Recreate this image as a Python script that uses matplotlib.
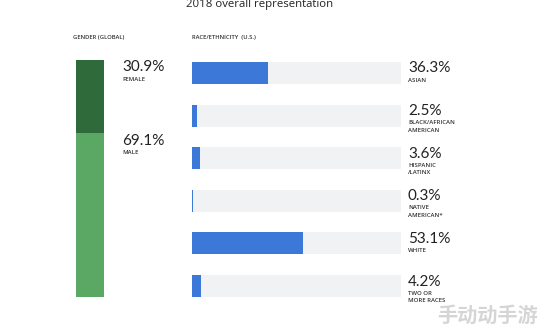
import matplotlib
matplotlib.use("Agg")
import matplotlib.pyplot as plt

title = "2018 overall representation"
gender_labels = ["FEMALE", "MALE"]
gender_values = [30.9, 69.1]
race_labels = ["ASIAN", "BLACK/AFRICAN\nAMERICAN", "HISPANIC\n/LATINX", "NATIVE\nAMERICAN*", "WHITE", "TWO OR\nMORE RACES"]
race_values = [36.3, 2.5, 3.6, 0.3, 53.1, 4.2]

W, H = 544, 332
fig = plt.figure(figsize=(W/100, H/100), dpi=100)
fig.patch.set_facecolor("white")

def fx(px): return px / W
def fy(py): return 1 - py / H

NUM = "Lato"
LAB = "Open Sans"

fig.text(fx(260), fy(5), title, ha="center", va="center", fontsize=8.2, family=LAB, color="#222222")
fig.text(fx(73), fy(37), "GENDER (GLOBAL)", ha="left", va="center", fontsize=4.2, family=LAB, fontweight="semibold", color="#333333")
fig.text(fx(192), fy(37), "RACE/ETHNICITY  (U.S.)", ha="left", va="center", fontsize=4.2, family=LAB, fontweight="semibold", color="#333333")

# Gender stacked bar
axg = fig.add_axes([fx(76), fy(297), fx(104) - fx(76), fy(60) - fy(297)])
gcolors = ["#2f6a3a", "#5ba865"]
bottom = 0
for v, c in zip(gender_values, gcolors):
    axg.bar(0, v, bottom=bottom, width=1.0, color=c, edgecolor="none")
    bottom += v
axg.set_xlim(-0.5, 0.5)
axg.set_ylim(100, 0)
axg.axis("off")
bottom = 0
for v, lab in zip(gender_values, gender_labels):
    axg.text(1.15, bottom + 0.2, f"{v}%", ha="left", va="top", fontsize=11, family=NUM, color="#222222", clip_on=False)
    axg.text(1.15, bottom + 7.0, lab, ha="left", va="top", fontsize=4.3, family=LAB, fontweight="semibold", color="#333333", clip_on=False)
    bottom += v

# Race bars
axr = fig.add_axes([fx(192), fy(297), fx(401) - fx(192), fy(62) - fy(297)])
n = len(race_values)
ypos = list(range(n))
bh = 0.516
axr.barh(ypos, [100] * n, height=bh, color="#f1f2f4", edgecolor="none")
axr.barh(ypos, race_values, height=bh, color="#3b78d8", edgecolor="none")
axr.set_xlim(0, 100)
axr.set_ylim(n - 1 + bh / 2, -bh / 2)
axr.axis("off")
for y, v, lab in zip(ypos, race_values, race_labels):
    axr.text(103.3, y - 0.27, f"{v}%", ha="left", va="top", fontsize=11, family=NUM, color="#222222", clip_on=False)
    axr.text(103.3, y + 0.11, lab, ha="left", va="top", fontsize=4.3, family=LAB, fontweight="semibold", color="#333333", linespacing=1.6, clip_on=False)

fig.text(fx(487), fy(315), "手动动手游", ha="center", va="center", fontsize=14.5, fontweight="bold",
         family=["Noto Sans CJK SC", "DejaVu Sans"], color="#c4c4c4", alpha=0.7)

fig.savefig("out.png", dpi=100, facecolor="white")
